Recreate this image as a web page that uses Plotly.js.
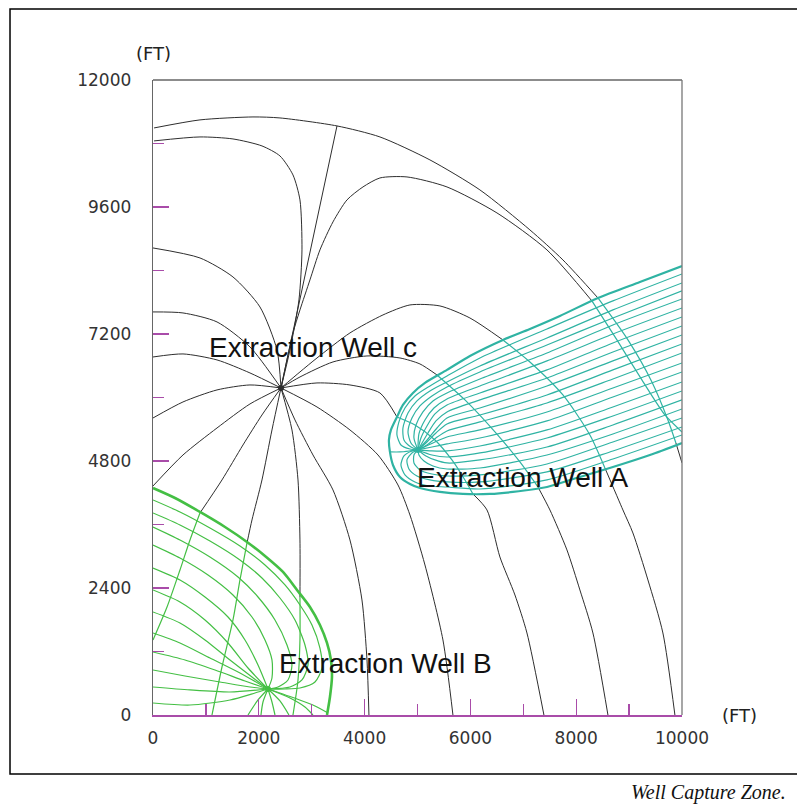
<!DOCTYPE html>
<html>
<head>
<meta charset="utf-8">
<script src="https://cdn.plot.ly/plotly-3.0.1.min.js"></script>
<style>html,body{margin:0;padding:0;background:#fff;}#chart{width:797px;height:804px;}</style>
</head>
<body>
<div id="chart"></div>
<script>
// ---- tick values (ft) ----
const xTickVals = [0, 2000, 4000, 6000, 8000, 10000];
const xMinorVals = [1000, 3000, 5000, 7000, 9000];
const yTickVals = [0, 2400, 4800, 7200, 9600, 12000];
const yMinorVals = [1200, 3600, 6000, 8400, 10800];

// ---- well locations (ft) ----
const wellNames = ["Extraction Well c", "Extraction Well A", "Extraction Well B"];
const wellX = [2419, 5009, 2174];
const wellY = [6180, 5009, 491];
const labelX = [1021, 4952, 2344];
const labelY = [6936, 4479, 964];

// ---- black flow lines around well c (segments inside capture zones are coloured) ----
const arcA1_x = [20, 888, 1890, 2400, 3478, 4290, 5235, 6180, 7125, 7749, 8411];
const arcA1_y = [11094, 11246, 11302, 11283, 11132, 10924, 10490, 9923, 9167, 8600, 7881];
const arcAc_x = [8411, 8978, 9431, 9734, 9885];
const arcAc_y = [7881, 7088, 6294, 5576, 5141];
const arcA2_x = [9885, 10000];
const arcA2_y = [5141, 4763];
const s1_x = [2419, 3478];
const s1_y = [6180, 11132];
const s2_x = [2419, 2589, 2759, 2816, 2778, 2646, 2400, 2060, 1512, 888, 20];
const s2_y = [6180, 6899, 7844, 8789, 9734, 10206, 10565, 10754, 10886, 10924, 10849];
const sB1_x = [2419, 2646, 2778, 2967, 3156, 3402, 3667, 3969, 4290, 4801, 5557, 6502, 7447, 8297];
const sB1_y = [6180, 7220, 7655, 8222, 8789, 9318, 9734, 9979, 10149, 10168, 9979, 9488, 8789, 7825];
const sBc_x = [8297, 8770, 9242, 9677, 10000];
const sBc_y = [7825, 7088, 6332, 5670, 5349];
const sC1_x = [2419, 2778, 3100, 3723, 4347, 4857, 5424, 5991, 6615];
const sC1_y = [6180, 6483, 6747, 7220, 7560, 7749, 7730, 7503, 7088];
const sCc_x = [6615, 7125, 7749, 8259, 8543];
const sCc_y = [7088, 6672, 6048, 5292, 4668];
const sC2_x = [8543, 8883, 9072, 9356, 9639, 9866];
const sC2_y = [4668, 3875, 3440, 2552, 1550, 0];
const sD1_x = [2419, 2778, 3402, 4045, 4668, 5046, 5368];
const sD1_y = [6180, 6388, 6672, 6785, 6747, 6634, 6426];
const sDc_x = [5368, 5897, 6464, 6936, 7277];
const sDc_y = [6426, 5954, 5349, 4782, 4309];
const sD2_x = [7277, 7503, 7825, 8070, 8316, 8600];
const sD2_y = [4309, 3875, 3119, 2363, 1550, 0];
const sE1_x = [2419, 3100, 3723, 4290, 4612];
const sE1_y = [6180, 6275, 6237, 6086, 5632];
const sEc_x = [4612, 4952, 5330, 5651, 5897, 6048];
const sEc_y = [5632, 5481, 5198, 4820, 4442, 4177];
const sE2_x = [6048, 6313, 6558, 6842, 7069, 7390];
const sE2_y = [4177, 3875, 2986, 2268, 1550, 0];
const s13_x = [2419, 3100, 3723, 4253, 4631, 4857, 5141, 5481, 5670];
const s13_y = [6180, 5821, 5387, 4914, 4347, 3780, 2835, 1418, 0];
const s12_x = [2419, 2684, 3024, 3402, 3723, 3950, 4045, 4082];
const s12_y = [6180, 5576, 4914, 4253, 3308, 2174, 1040, 0];
const s11_x = [2419, 2627, 2741, 2778, 2778];
const s11_y = [6180, 5387, 4442, 3308, 2230];
const s11g_x = [2778, 2778, 2741, 2646];
const s11g_y = [2230, 1418, 662, 0];
const s10_x = [2419, 2249, 2060, 1871, 1777];
const s10_y = [6180, 5387, 4442, 3686, 3251];
const s10g_x = [1777, 1644, 1512, 1304, 1115];
const s10g_y = [3251, 2552, 1796, 907, 0];
const s9_x = [2419, 2060, 1701, 1304, 888];
const s9_y = [6180, 5670, 5103, 4442, 3818];
const s9g_x = [888, 699, 510, 265, 0];
const s9g_y = [3818, 3308, 2741, 2041, 1418];
const s8_x = [2419, 1833, 1210, 567, 0];
const s8_y = [6180, 5878, 5424, 4914, 4328];
const s7_x = [2419, 1833, 1210, 567, 0];
const s7_y = [6180, 6237, 6143, 5916, 5613];
const s6_x = [2419, 1833, 1210, 567, 0];
const s6_y = [6180, 6464, 6710, 6823, 6766];
const s5_x = [2419, 1833, 1210, 567, 0];
const s5_y = [6180, 6955, 7428, 7598, 7617];
const s4_x = [2419, 2344, 2022, 1512, 888, 0];
const s4_y = [6180, 6899, 7711, 8278, 8637, 8826];

// ---- well A capture zone (cyan) ----
const zoneA_x = [10000, 9204, 8411, 7692, 7125, 6615, 5991, 5557, 5141, 4914, 4725, 4612, 4498, 4460, 4479, 4536, 4668, 4857, 5046, 5424, 5859, 6369, 6804, 7447, 8070, 8694, 9393, 10000];
const zoneA_y = [8486, 8184, 7881, 7541, 7295, 7088, 6785, 6521, 6275, 6086, 5859, 5632, 5387, 5198, 4971, 4725, 4498, 4366, 4290, 4215, 4177, 4177, 4215, 4309, 4498, 4687, 4914, 5141];
const cyanX = [
  [10000, 8694, 7447, 6180, 5557, 5235, 4952, 4763, 4649, 4612, 4687, 4857, 5009],
  [10000, 8694, 7447, 6180, 5557, 5235, 4990, 4820, 4725, 4744, 4876, 5009],
  [10000, 8694, 7447, 6180, 5557, 5273, 5046, 4895, 4820, 4876, 5009],
  [10000, 8694, 7447, 6180, 5557, 5292, 5103, 4971, 4933, 5009],
  [10000, 8694, 7447, 6180, 5557, 5311, 5141, 5027, 5009],
  [10000, 8694, 7447, 6180, 5557, 5330, 5179, 5065, 5009],
  [10000, 8694, 7447, 6180, 5557, 5349, 5198, 5009],
  [10000, 8694, 7447, 6180, 5557, 5368, 5198, 5009],
  [10000, 8694, 7447, 6180, 5557, 5349, 5179, 5009],
  [10000, 8694, 7447, 6180, 5557, 5349, 5179, 5009],
  [10000, 8694, 7447, 6180, 5557, 5292, 5009],
  [10000, 8694, 7447, 6180, 5557, 5273, 5009],
  [10000, 8694, 7447, 6180, 5557, 5273, 5009],
  [10000, 8694, 7447, 6180, 5557, 5273, 5009],
  [10000, 8694, 7447, 6180, 5557, 5330, 5160, 5009],
  [10000, 8694, 7447, 6180, 5557, 5292, 5122, 5027, 5009],
  [10000, 8694, 7447, 6180, 5557, 5273, 5046, 4933, 4933, 5009],
  [10000, 8694, 7447, 6180, 5557, 5235, 4990, 4838, 4801, 4895, 5009],
  [10000, 8694, 7447, 6180, 5557, 5235, 4952, 4763, 4687, 4744, 4895, 5009],
  [4479, 4668, 4857, 5009]
];
const cyanY = [
  [8335, 7825, 7295, 6747, 6407, 6218, 6029, 5802, 5538, 5292, 5103, 5027, 5009],
  [8165, 7655, 7125, 6596, 6294, 6124, 5935, 5708, 5424, 5198, 5065, 5009],
  [8014, 7503, 6993, 6483, 6199, 6029, 5840, 5613, 5349, 5141, 5009],
  [7862, 7371, 6842, 6350, 6086, 5935, 5727, 5481, 5235, 5009],
  [7692, 7201, 6691, 6218, 5972, 5802, 5576, 5311, 5009],
  [7522, 7031, 6521, 6086, 5859, 5689, 5462, 5235, 5009],
  [7352, 6861, 6369, 5954, 5727, 5557, 5330, 5009],
  [7182, 6691, 6218, 5802, 5613, 5424, 5216, 5009],
  [7012, 6521, 6048, 5670, 5500, 5330, 5160, 5009],
  [6842, 6350, 5897, 5538, 5368, 5235, 5103, 5009],
  [6653, 6180, 5727, 5387, 5254, 5141, 5009],
  [6483, 6010, 5557, 5235, 5122, 5065, 5009],
  [6294, 5821, 5387, 5084, 4990, 4990, 5009],
  [6124, 5651, 5235, 4952, 4876, 4914, 5009],
  [5954, 5481, 5065, 4820, 4763, 4820, 4895, 5009],
  [5783, 5311, 4914, 4668, 4649, 4706, 4801, 4914, 5009],
  [5613, 5160, 4744, 4536, 4517, 4555, 4631, 4763, 4914, 5009],
  [5443, 4990, 4593, 4404, 4404, 4442, 4517, 4649, 4820, 4952, 5009],
  [5292, 4838, 4442, 4271, 4309, 4328, 4404, 4536, 4725, 4895, 4990, 5009],
  [4971, 4971, 4990, 5009]
];

// ---- well B capture zone (green) ----
const zoneB_x = [0, 416, 888, 1361, 1777, 2117, 2457, 2722, 2967, 3156, 3289, 3364, 3383, 3345, 3289];
const zoneB_y = [4290, 4101, 3837, 3553, 3270, 3005, 2703, 2363, 2041, 1701, 1361, 1040, 718, 340, 0];
const greenX = [
  [0, 510, 1077, 1644, 2117, 2495, 2778, 3005, 3156, 3194, 3062, 2778, 2495, 2174],
  [0, 510, 1077, 1644, 2060, 2400, 2684, 2873, 2930, 2816, 2589, 2174],
  [0, 510, 1077, 1607, 1985, 2306, 2533, 2627, 2552, 2363, 2174],
  [0, 510, 1040, 1512, 1871, 2117, 2249, 2249, 2174],
  [0, 510, 983, 1418, 1739, 1985, 2174],
  [0, 510, 983, 1418, 1796, 2174],
  [0, 510, 983, 1455, 1871, 2174],
  [0, 510, 1077, 1644, 2174],
  [0, 605, 1172, 1739, 2174],
  [0, 605, 1266, 1833, 2174],
  [0, 699, 1455, 2174],
  [0, 699, 1455, 1928, 2174],
  [2174, 1985, 1796],
  [2174, 2079, 2041],
  [2174, 2249, 2306],
  [2174, 2400, 2570],
  [2174, 2589, 2873, 3024],
  [2174, 2722, 3062, 3308]
];
const greenY = [
  [4064, 3837, 3534, 3194, 2835, 2457, 2079, 1701, 1266, 888, 624, 510, 491, 491],
  [3818, 3591, 3289, 2930, 2589, 2211, 1796, 1323, 945, 662, 529, 491],
  [3553, 3308, 2986, 2608, 2230, 1796, 1323, 945, 662, 529, 491],
  [3213, 2967, 2646, 2268, 1852, 1418, 1040, 699, 491],
  [2778, 2552, 2230, 1852, 1418, 945, 491],
  [2363, 2136, 1796, 1361, 888, 491],
  [1947, 1739, 1418, 1040, 718, 491],
  [1550, 1361, 1077, 794, 491],
  [1191, 1040, 851, 643, 491],
  [851, 737, 624, 529, 491],
  [529, 473, 435, 491],
  [227, 189, 284, 416, 491],
  [491, 284, 0],
  [491, 246, 0],
  [491, 246, 0],
  [491, 265, 0],
  [491, 321, 151, 0],
  [491, 302, 170, 38]
];

// ---- build traces ----
const BLACK = '#2e2e2e', CYAN = '#2fb3a3', GREEN = '#44bf44', PURPLE = '#a94ca9';
const traces = [];
function addLine(xs, ys, color, width) {
  traces.push({type: 'scatter', mode: 'lines', x: xs, y: ys, hoverinfo: 'skip',
    line: {color: color, width: width, shape: 'spline', smoothing: 0.7}});
}
[[arcA1_x, arcA1_y], [arcA2_x, arcA2_y], [s1_x, s1_y], [s2_x, s2_y], [sB1_x, sB1_y],
 [sC1_x, sC1_y], [sC2_x, sC2_y], [sD1_x, sD1_y], [sD2_x, sD2_y], [sE1_x, sE1_y], [sE2_x, sE2_y],
 [s13_x, s13_y], [s12_x, s12_y], [s11_x, s11_y], [s10_x, s10_y], [s9_x, s9_y],
 [s8_x, s8_y], [s7_x, s7_y], [s6_x, s6_y], [s5_x, s5_y], [s4_x, s4_y]]
  .forEach(p => addLine(p[0], p[1], BLACK, 1));
[[s11g_x, s11g_y], [s10g_x, s10g_y], [s9g_x, s9g_y]].forEach(p => addLine(p[0], p[1], GREEN, 1.2));
greenX.forEach((xs, i) => addLine(xs, greenY[i], GREEN, 1.2));
addLine(zoneB_x, zoneB_y, GREEN, 2.6);
[[arcAc_x, arcAc_y], [sBc_x, sBc_y], [sCc_x, sCc_y], [sDc_x, sDc_y], [sEc_x, sEc_y]]
  .forEach(p => addLine(p[0], p[1], CYAN, 1.2));
cyanX.forEach((xs, i) => addLine(xs, cyanY[i], CYAN, 1.2));
addLine(zoneA_x, zoneA_y, CYAN, 2.2);
traces.push({type: 'scatter', mode: 'markers', x: wellX, y: wellY, hoverinfo: 'skip',
  marker: {size: 6, color: [BLACK, CYAN, GREEN]}});

const annotations = wellNames.map((t, i) => ({
  text: t, x: labelX[i], y: labelY[i], xref: 'x', yref: 'y', xanchor: 'left', yanchor: 'middle',
  showarrow: false, font: {family: 'Liberation Sans, Arial, sans-serif', size: 28, color: '#111'}
}));
annotations.push({text: '(FT)', xref: 'paper', yref: 'paper', x: 0.0, y: 1.0425, xanchor: 'center', yanchor: 'middle',
  showarrow: false, font: {family: 'DejaVu Sans', size: 18, color: '#222'}});
annotations.push({text: '(FT)', xref: 'paper', yref: 'paper', x: 1.1096, y: 0.0, xanchor: 'center', yanchor: 'middle',
  showarrow: false, font: {family: 'DejaVu Sans', size: 18, color: '#222'}});
annotations.push({text: '<i>Well Capture Zone.</i>', xref: 'paper', yref: 'paper', x: 0.899, y: -0.1228,
  xanchor: 'left', yanchor: 'middle', showarrow: false,
  font: {family: 'Liberation Serif, Times New Roman, serif', size: 20, color: '#111'}});

const axisFont = {family: 'DejaVu Sans', size: 17, color: '#333'};
const layout = {
  width: 797, height: 804, autosize: false,
  margin: {l: 153, r: 115, t: 80, b: 89, pad: 0},
  paper_bgcolor: '#fff', plot_bgcolor: '#fff',
  showlegend: false, hovermode: false,
  xaxis: {range: [0, 10000], showgrid: false, zeroline: false, showline: true, linecolor: PURPLE, linewidth: 1.5,
    tickmode: 'array', tickvals: xTickVals, ticktext: xTickVals.map(String), ticks: 'inside', ticklen: 16,
    tickwidth: 1.3, tickcolor: PURPLE, tickfont: axisFont, ticklabelstandoff: 7, fixedrange: true,
    minor: {tickmode: 'array', tickvals: xMinorVals, ticks: 'inside', ticklen: 11, tickwidth: 1.3, tickcolor: PURPLE}},
  yaxis: {range: [0, 12000], showgrid: false, zeroline: false, showline: true, linecolor: '#666', linewidth: 1.3,
    tickmode: 'array', tickvals: yTickVals, ticktext: yTickVals.map(String), ticks: 'inside', ticklen: 16,
    tickwidth: 1.3, tickcolor: PURPLE, tickfont: axisFont, ticklabelstandoff: 17, fixedrange: true,
    minor: {tickmode: 'array', tickvals: yMinorVals, ticks: 'inside', ticklen: 11, tickwidth: 1.3, tickcolor: PURPLE}},
  shapes: [
    {type: 'line', xref: 'paper', yref: 'paper', x0: 0, x1: 1, y0: 1, y1: 1, line: {color: '#666', width: 1.3}},
    {type: 'line', xref: 'paper', yref: 'paper', x0: 1, x1: 1, y0: 0, y1: 1, line: {color: '#777', width: 1.3}},
    {type: 'rect', xref: 'paper', yref: 'paper', x0: -0.2703, x1: 1.25, y0: -0.0929, y1: 1.1118,
      line: {color: '#000', width: 1.5}, fillcolor: 'rgba(0,0,0,0)', layer: 'below'}
  ],
  annotations: annotations
};
Plotly.newPlot('chart', traces, layout, {displayModeBar: false, staticPlot: true});
</script>
</body>
</html>
